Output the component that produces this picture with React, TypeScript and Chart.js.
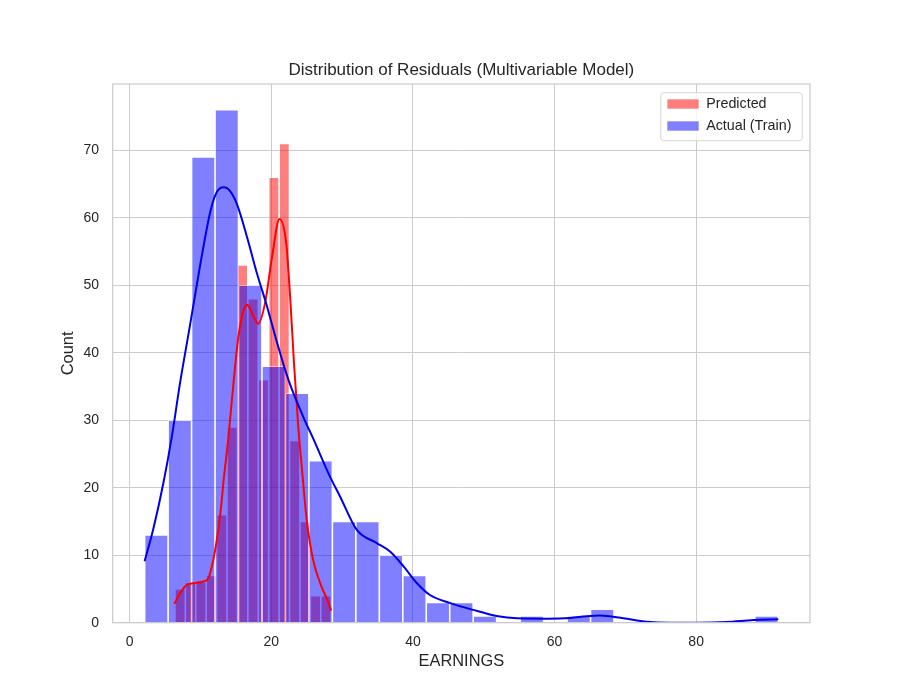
import { useEffect, useRef } from "react";
import { Chart, registerables } from "chart.js";

Chart.register(...registerables);

// histogram of the training residuals: 27 bins between the two edges
const actualBinRange = [2.1, 91.6];
const actualCounts = [13, 30, 69, 76, 50, 38, 34, 24, 15, 15, 10, 7, 3, 3, 1, 0, 1, 0, 1, 2, 0, 0, 0, 0, 0, 0, 1];

// histogram of the predicted values: 15 bins
const predictedBinRange = [6.38, 28.45];
const predictedCounts = [5, 6, 6, 7, 16, 29, 53, 48, 36, 66, 71, 27, 15, 4, 4];

// KDE curves (count scale)
const actualKdeX = [2.1, 3.35, 4.75, 5.95, 7.1, 8.5, 9.95, 11.4, 12.3, 13.3, 14.2, 15.1, 16.6, 17.95, 19.35, 20.8, 22.4, 24.5, 25.9, 28.3, 29.7, 32.1, 34.9, 36.8, 38.7, 40.6, 42.4, 45.3, 48.5, 51.8, 54.7, 58.9, 62.2, 64.5, 66.4, 69.7, 73.0, 76.3, 80.1, 84.3, 88.1, 91.6];
const actualKdeY = [9.1, 14.0, 20.7, 27.6, 35.5, 44.0, 53.0, 61.0, 63.8, 64.5, 63.9, 62.1, 57.0, 51.8, 47.0, 41.5, 36.0, 30.5, 27.3, 21.6, 18.7, 13.7, 11.8, 10.5, 8.3, 5.8, 4.1, 2.9, 1.9, 1.0, 0.65, 0.6, 0.7, 0.95, 1.05, 0.65, 0.15, 0.0, 0.0, 0.1, 0.4, 0.5];

const predictedKdeX = [6.3, 7.1, 8.05, 9.25, 10.4, 11.1, 11.8, 12.3, 12.8, 13.3, 13.9, 14.65, 15.35, 16.0, 16.55, 17.0, 17.5, 18.15, 19.1, 20.1, 21.15, 22.1, 22.65, 23.2, 23.8, 24.3, 25.0, 25.9, 27.1, 27.9, 28.45];
const predictedKdeY = [2.8, 4.35, 5.6, 5.9, 6.1, 6.6, 9.3, 12.3, 16.2, 21.5, 27.1, 35.5, 42.4, 46.0, 47.1, 46.5, 45.3, 44.3, 47.3, 54.2, 59.8, 56.2, 48.3, 38.4, 29.0, 23.0, 15.2, 9.3, 5.3, 3.4, 1.8];

const xTicks = [0, 20, 40, 60, 80];
const yTicks = [0, 10, 20, 30, 40, 50, 60, 70];
const xRange = [-2.41, 96.08];
const yRange = [0, 79.8];

const FONT = "'Liberation Sans', Arial, sans-serif";
const INK = "#262626";
const GRID = "#cccccc";

function binCenters(range: number[], n: number) {
  const w = (range[1] - range[0]) / n;
  return Array.from({ length: n }, (_, i) => range[0] + (i + 0.5) * w);
}

function drawLegendFrame(chart: any) {
  const { ctx, chartArea: ca } = chart;
  const w = 141.6;
  const h = 48;
  const x = ca.right - 7.7 - w;
  const y = ca.top + 8.7;
  ctx.save();
  ctx.beginPath();
  ctx.roundRect(x, y, w, h, 3);
  ctx.fillStyle = "rgba(255,255,255,0.8)";
  ctx.fill();
  ctx.strokeStyle = "rgba(204,204,204,0.8)";
  ctx.lineWidth = 1;
  ctx.stroke();
  ctx.restore();
}

// matplotlib-like legend box in the upper right corner of the axes
const legendBoxPlugin = {
  id: "legendBox",
  beforeLayout(chart: any) {
    const lg = chart.legend;
    if (lg) {
      lg._layers = () => [
        {
          z: 1,
          draw: () => {
            drawLegendFrame(chart);
            lg.draw();
          },
        },
      ];
    }
  },
  afterLayout(chart: any) {
    const lg = chart.legend;
    if (!lg) return;
    const ca = chart.chartArea;
    const pad = lg.options.labels.padding;
    const fx = ca.right - 7.7 - 141.6;
    const fy = ca.top + 8.7;
    lg.left = fx + 6.3 - pad;
    lg.top = fy + 4.15 - pad;
    lg.right = ca.right;
    lg.bottom = fy + 70;
    lg.width = lg.right - lg.left;
    lg.height = lg.bottom - lg.top;
  },
};

// all four spines
const axesFramePlugin = {
  id: "axesFrame",
  afterDatasetsDraw(chart: any) {
    const { ctx, chartArea: ca } = chart;
    ctx.save();
    ctx.strokeStyle = GRID;
    ctx.lineWidth = 1.25;
    ctx.strokeRect(ca.left, ca.top, ca.right - ca.left, ca.bottom - ca.top);
    ctx.restore();
  },
};

export default function App() {
  const chartRef = useRef<HTMLCanvasElement | null>(null);

  useEffect(() => {
    if (!chartRef.current) return;
    Chart.defaults.font.family = FONT;

    const actualX = binCenters(actualBinRange, actualCounts.length);
    const predictedX = binCenters(predictedBinRange, predictedCounts.length);

    const barCommon = {
      borderColor: "rgba(255,255,255,0.8)",
      borderWidth: 0.8,
      grouped: false,
      categoryPercentage: 1,
      barPercentage: 1,
      inflateAmount: 0,
    };

    const myChart = new Chart(chartRef.current, {
      type: "bar",
      data: {
        datasets: [
          {
            ...barCommon,
            type: "bar",
            label: "Predicted",
            data: predictedX.map((x, i) => ({ x, y: predictedCounts[i] })),
            xAxisID: "x2",
            yAxisID: "y",
            backgroundColor: "rgba(255,0,0,0.5)",
            order: 4,
          },
          {
            ...barCommon,
            type: "bar",
            label: "Actual (Train)",
            data: actualX.map((x, i) => ({ x, y: actualCounts[i] })),
            xAxisID: "x",
            yAxisID: "y",
            backgroundColor: "rgba(0,0,255,0.5)",
            order: 3,
          },
          {
            type: "line",
            label: "Predicted KDE",
            data: predictedKdeX.map((x, i) => ({ x, y: predictedKdeY[i] })),
            xAxisID: "x",
            yAxisID: "y",
            borderColor: "#ff0000",
            borderWidth: 2,
            pointRadius: 0,
            fill: false,
            cubicInterpolationMode: "monotone",
            order: 2,
          },
          {
            type: "line",
            label: "Actual KDE",
            data: actualKdeX.map((x, i) => ({ x, y: actualKdeY[i] })),
            xAxisID: "x",
            yAxisID: "y",
            borderColor: "#0000e6",
            borderWidth: 2,
            pointRadius: 0,
            fill: false,
            cubicInterpolationMode: "monotone",
            order: 1,
          },
        ] as any,
      },
      options: {
        animation: false,
        responsive: true,
        maintainAspectRatio: false,
        events: [],
        layout: { padding: { left: 0, right: 90, top: 0, bottom: 0 } },
        plugins: {
          title: {
            display: true,
            text: "Distribution of Residuals (Multivariable Model)",
            color: INK,
            fullSize: false,
            font: { family: FONT, size: 17, weight: "normal" },
            padding: { top: 60.3, bottom: 3.3 },
          },
          legend: {
            position: "chartArea" as any,
            align: "start",
            labels: {
              boxWidth: 32,
              boxHeight: 10,
              padding: 7.7,
              color: INK,
              textAlign: "left",
              font: { family: FONT, size: 14.3 },
              filter: (item: any) => item.datasetIndex < 2,
              sort: (a: any, b: any) => a.datasetIndex - b.datasetIndex,
            },
          },
          tooltip: { enabled: false },
        },
        scales: {
          x: {
            type: "linear",
            position: "bottom",
            offset: false,
            min: xRange[0],
            max: xRange[1],
            afterBuildTicks: (s: any) => {
              s.ticks = xTicks.map((v) => ({ value: v }));
            },
            afterFit: (s: any) => {
              s.height = 77.3;
            },
            grid: { color: GRID, lineWidth: 1, drawTicks: false, offset: false },
            border: { display: false },
            ticks: { padding: 11, color: INK, font: { family: FONT, size: 14 } },
            title: {
              display: true,
              text: "EARNINGS",
              color: INK,
              font: { family: FONT, size: 16.4 },
              padding: { top: 0, bottom: 28.2 },
            },
          },
          x2: {
            type: "linear",
            display: false,
            offset: false,
            min: xRange[0],
            max: xRange[1],
            afterBuildTicks: (s: any) => {
              s.ticks = xTicks.map((v) => ({ value: v }));
            },
          },
          y: {
            type: "linear",
            min: yRange[0],
            max: yRange[1],
            afterBuildTicks: (s: any) => {
              s.ticks = yTicks.map((v) => ({ value: v }));
            },
            afterFit: (s: any) => {
              s.width = 112.7;
            },
            grid: { color: GRID, lineWidth: 1, drawTicks: false },
            border: { display: false },
            ticks: { padding: 13.7, color: INK, font: { family: FONT, size: 14 } },
            title: {
              display: true,
              text: "Count",
              color: INK,
              font: { family: FONT, size: 16.4 },
              padding: { top: 58.9, bottom: 0 },
            },
          },
        },
      } as any,
      plugins: [legendBoxPlugin, axesFramePlugin],
    });

    return () => {
      myChart.destroy();
    };
  }, []);

  return (
    <div style={{ position: "absolute", left: 0, top: 0, width: 900, height: 700, background: "#ffffff" }}>
      <canvas ref={chartRef} />
    </div>
  );
}
